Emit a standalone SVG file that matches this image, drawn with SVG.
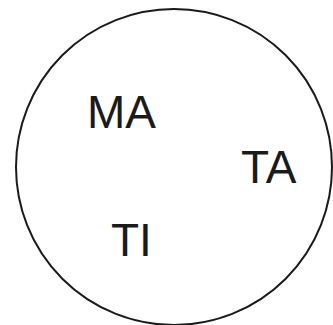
<svg xmlns="http://www.w3.org/2000/svg" width="333" height="325" viewBox="0 0 333 325">
<style>
.lbl{font-family:"Liberation Sans",Arial,sans-serif;font-size:46px;fill:#1a1a1a}
.ring{fill:none;stroke:#1a1a1a;stroke-width:2}
</style>
<rect width="333" height="325" fill="#ffffff"/>
<g id="circle"><circle class="ring" cx="174" cy="167" r="158"/></g>
<g id="MA"><text class="lbl" x="87" y="128">MA</text></g>
<g id="TA"><text class="lbl" x="241" y="183">TA</text></g>
<g id="TI"><text class="lbl" x="111" y="256">TI</text></g>
</svg>
